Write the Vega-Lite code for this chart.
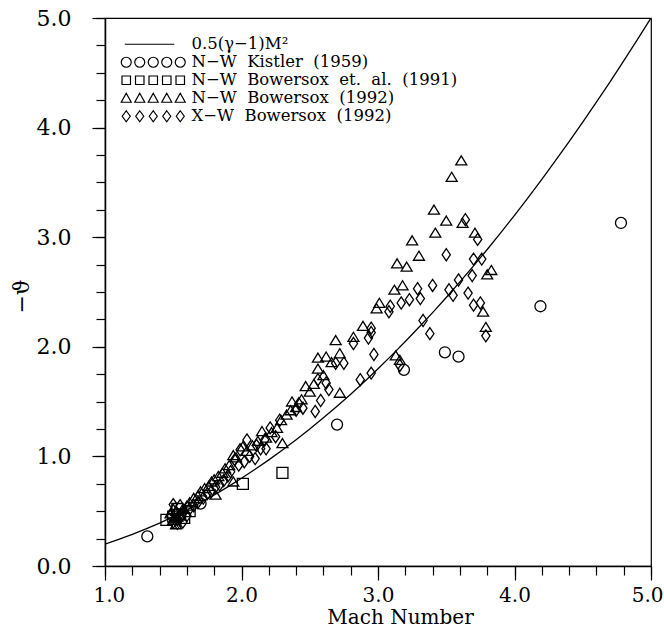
{
  "$schema": "https://vega.github.io/schema/vega-lite/v6.json",
  "width": 546,
  "height": 548,
  "autosize": {"type": "none"},
  "padding": {"left": 105, "top": 18, "right": 13, "bottom": 63},
  "background": "white",
  "config": {
    "view": {"stroke": "black", "strokeWidth": 1.2},
    "font": "DejaVu Serif"
  },
  "datasets": {
    "curve": [
      {"M": 1.0, "theta": 0.2}, {"M": 1.1, "theta": 0.242}, {"M": 1.2, "theta": 0.288}, {"M": 1.3, "theta": 0.338},
      {"M": 1.4, "theta": 0.392}, {"M": 1.5, "theta": 0.45}, {"M": 1.6, "theta": 0.512}, {"M": 1.7, "theta": 0.578},
      {"M": 1.8, "theta": 0.648}, {"M": 1.9, "theta": 0.722}, {"M": 2.0, "theta": 0.8}, {"M": 2.1, "theta": 0.882},
      {"M": 2.2, "theta": 0.968}, {"M": 2.3, "theta": 1.058}, {"M": 2.4, "theta": 1.152}, {"M": 2.5, "theta": 1.25},
      {"M": 2.6, "theta": 1.352}, {"M": 2.7, "theta": 1.458}, {"M": 2.8, "theta": 1.568}, {"M": 2.9, "theta": 1.682},
      {"M": 3.0, "theta": 1.8}, {"M": 3.1, "theta": 1.922}, {"M": 3.2, "theta": 2.048}, {"M": 3.3, "theta": 2.178},
      {"M": 3.4, "theta": 2.312}, {"M": 3.5, "theta": 2.45}, {"M": 3.6, "theta": 2.592}, {"M": 3.7, "theta": 2.738},
      {"M": 3.8, "theta": 2.888}, {"M": 3.9, "theta": 3.042}, {"M": 4.0, "theta": 3.2}, {"M": 4.1, "theta": 3.362},
      {"M": 4.2, "theta": 3.528}, {"M": 4.3, "theta": 3.698}, {"M": 4.4, "theta": 3.872}, {"M": 4.5, "theta": 4.05},
      {"M": 4.6, "theta": 4.232}, {"M": 4.7, "theta": 4.418}, {"M": 4.8, "theta": 4.608}, {"M": 4.9, "theta": 4.802},
      {"M": 5.0, "theta": 5.0}
    ],
    "points": [
      {"M": 1.31, "theta": 0.27, "series": "N−W Kistler (1959)"},
      {"M": 1.70, "theta": 0.57, "series": "N−W Kistler (1959)"},
      {"M": 2.70, "theta": 1.29, "series": "N−W Kistler (1959)"},
      {"M": 3.19, "theta": 1.79, "series": "N−W Kistler (1959)"},
      {"M": 3.49, "theta": 1.95, "series": "N−W Kistler (1959)"},
      {"M": 3.59, "theta": 1.91, "series": "N−W Kistler (1959)"},
      {"M": 4.19, "theta": 2.37, "series": "N−W Kistler (1959)"},
      {"M": 4.78, "theta": 3.13, "series": "N−W Kistler (1959)"},

      {"M": 1.45, "theta": 0.42, "series": "N−W Bowersox et. al. (1991)"},
      {"M": 1.50, "theta": 0.45, "series": "N−W Bowersox et. al. (1991)"},
      {"M": 1.55, "theta": 0.47, "series": "N−W Bowersox et. al. (1991)"},
      {"M": 1.58, "theta": 0.44, "series": "N−W Bowersox et. al. (1991)"},
      {"M": 1.62, "theta": 0.50, "series": "N−W Bowersox et. al. (1991)"},
      {"M": 1.53, "theta": 0.52, "series": "N−W Bowersox et. al. (1991)"},
      {"M": 2.01, "theta": 0.75, "series": "N−W Bowersox et. al. (1991)"},
      {"M": 2.30, "theta": 0.85, "series": "N−W Bowersox et. al. (1991)"},

      {"M": 3.61, "theta": 3.70, "series": "N−W Bowersox (1992)"},
      {"M": 3.54, "theta": 3.55, "series": "N−W Bowersox (1992)"},
      {"M": 3.41, "theta": 3.25, "series": "N−W Bowersox (1992)"},
      {"M": 3.50, "theta": 3.15, "series": "N−W Bowersox (1992)"},
      {"M": 3.62, "theta": 3.13, "series": "N−W Bowersox (1992)"},
      {"M": 3.42, "theta": 3.04, "series": "N−W Bowersox (1992)"},
      {"M": 3.71, "theta": 3.04, "series": "N−W Bowersox (1992)"},
      {"M": 3.25, "theta": 2.97, "series": "N−W Bowersox (1992)"},
      {"M": 3.30, "theta": 2.83, "series": "N−W Bowersox (1992)"},
      {"M": 3.21, "theta": 2.73, "series": "N−W Bowersox (1992)"},
      {"M": 3.14, "theta": 2.76, "series": "N−W Bowersox (1992)"},
      {"M": 3.83, "theta": 2.70, "series": "N−W Bowersox (1992)"},
      {"M": 3.80, "theta": 2.66, "series": "N−W Bowersox (1992)"},
      {"M": 3.18, "theta": 2.56, "series": "N−W Bowersox (1992)"},
      {"M": 3.12, "theta": 2.52, "series": "N−W Bowersox (1992)"},
      {"M": 3.01, "theta": 2.40, "series": "N−W Bowersox (1992)"},
      {"M": 2.99, "theta": 2.35, "series": "N−W Bowersox (1992)"},
      {"M": 2.89, "theta": 2.19, "series": "N−W Bowersox (1992)"},
      {"M": 2.82, "theta": 2.09, "series": "N−W Bowersox (1992)"},
      {"M": 2.69, "theta": 2.06, "series": "N−W Bowersox (1992)"},
      {"M": 2.72, "theta": 1.94, "series": "N−W Bowersox (1992)"},
      {"M": 2.56, "theta": 1.90, "series": "N−W Bowersox (1992)"},
      {"M": 2.62, "theta": 1.91, "series": "N−W Bowersox (1992)"},
      {"M": 2.56, "theta": 1.80, "series": "N−W Bowersox (1992)"},
      {"M": 2.47, "theta": 1.64, "series": "N−W Bowersox (1992)"},
      {"M": 2.50, "theta": 1.59, "series": "N−W Bowersox (1992)"},
      {"M": 2.72, "theta": 1.58, "series": "N−W Bowersox (1992)"},
      {"M": 2.37, "theta": 1.50, "series": "N−W Bowersox (1992)"},
      {"M": 2.36, "theta": 1.42, "series": "N−W Bowersox (1992)"},
      {"M": 2.29, "theta": 1.33, "series": "N−W Bowersox (1992)"},
      {"M": 2.15, "theta": 1.23, "series": "N−W Bowersox (1992)"},
      {"M": 2.30, "theta": 1.12, "series": "N−W Bowersox (1992)"},
      {"M": 2.01, "theta": 1.09, "series": "N−W Bowersox (1992)"},
      {"M": 1.94, "theta": 1.01, "series": "N−W Bowersox (1992)"},
      {"M": 3.77, "theta": 2.32, "series": "N−W Bowersox (1992)"},
      {"M": 3.79, "theta": 2.18, "series": "N−W Bowersox (1992)"},
      {"M": 3.16, "theta": 1.88, "series": "N−W Bowersox (1992)"},
      {"M": 3.13, "theta": 1.92, "series": "N−W Bowersox (1992)"},
      {"M": 1.81, "theta": 0.65, "series": "N−W Bowersox (1992)"},
      {"M": 1.94, "theta": 0.77, "series": "N−W Bowersox (1992)"},
      {"M": 1.48, "theta": 0.48, "series": "N−W Bowersox (1992)"},
      {"M": 1.50, "theta": 0.52, "series": "N−W Bowersox (1992)"},
      {"M": 1.52, "theta": 0.50, "series": "N−W Bowersox (1992)"},
      {"M": 1.53, "theta": 0.45, "series": "N−W Bowersox (1992)"},
      {"M": 1.55, "theta": 0.47, "series": "N−W Bowersox (1992)"},
      {"M": 1.50, "theta": 0.42, "series": "N−W Bowersox (1992)"},
      {"M": 1.52, "theta": 0.38, "series": "N−W Bowersox (1992)"},
      {"M": 1.57, "theta": 0.52, "series": "N−W Bowersox (1992)"},
      {"M": 1.60, "theta": 0.55, "series": "N−W Bowersox (1992)"},
      {"M": 1.62, "theta": 0.58, "series": "N−W Bowersox (1992)"},
      {"M": 1.65, "theta": 0.62, "series": "N−W Bowersox (1992)"},
      {"M": 1.68, "theta": 0.64, "series": "N−W Bowersox (1992)"},
      {"M": 1.70, "theta": 0.68, "series": "N−W Bowersox (1992)"},
      {"M": 1.73, "theta": 0.71, "series": "N−W Bowersox (1992)"},
      {"M": 1.76, "theta": 0.73, "series": "N−W Bowersox (1992)"},
      {"M": 1.78, "theta": 0.77, "series": "N−W Bowersox (1992)"},
      {"M": 1.80, "theta": 0.79, "series": "N−W Bowersox (1992)"},
      {"M": 1.83, "theta": 0.82, "series": "N−W Bowersox (1992)"},
      {"M": 1.86, "theta": 0.85, "series": "N−W Bowersox (1992)"},
      {"M": 1.88, "theta": 0.89, "series": "N−W Bowersox (1992)"},
      {"M": 1.91, "theta": 0.92, "series": "N−W Bowersox (1992)"},
      {"M": 1.96, "theta": 0.99, "series": "N−W Bowersox (1992)"},
      {"M": 2.04, "theta": 1.05, "series": "N−W Bowersox (1992)"},
      {"M": 2.08, "theta": 1.10, "series": "N−W Bowersox (1992)"},
      {"M": 2.12, "theta": 1.14, "series": "N−W Bowersox (1992)"},
      {"M": 2.18, "theta": 1.17, "series": "N−W Bowersox (1992)"},
      {"M": 2.22, "theta": 1.22, "series": "N−W Bowersox (1992)"},
      {"M": 2.26, "theta": 1.26, "series": "N−W Bowersox (1992)"},
      {"M": 2.33, "theta": 1.38, "series": "N−W Bowersox (1992)"},
      {"M": 2.40, "theta": 1.45, "series": "N−W Bowersox (1992)"},
      {"M": 2.44, "theta": 1.52, "series": "N−W Bowersox (1992)"},
      {"M": 2.53, "theta": 1.66, "series": "N−W Bowersox (1992)"},
      {"M": 2.60, "theta": 1.74, "series": "N−W Bowersox (1992)"},
      {"M": 2.66, "theta": 1.86, "series": "N−W Bowersox (1992)"},

      {"M": 3.64, "theta": 3.16, "series": "X−W Bowersox (1992)"},
      {"M": 3.73, "theta": 2.98, "series": "X−W Bowersox (1992)"},
      {"M": 3.50, "theta": 2.84, "series": "X−W Bowersox (1992)"},
      {"M": 3.76, "theta": 2.80, "series": "X−W Bowersox (1992)"},
      {"M": 3.70, "theta": 2.80, "series": "X−W Bowersox (1992)"},
      {"M": 3.69, "theta": 2.65, "series": "X−W Bowersox (1992)"},
      {"M": 3.59, "theta": 2.61, "series": "X−W Bowersox (1992)"},
      {"M": 3.40, "theta": 2.56, "series": "X−W Bowersox (1992)"},
      {"M": 3.52, "theta": 2.52, "series": "X−W Bowersox (1992)"},
      {"M": 3.29, "theta": 2.53, "series": "X−W Bowersox (1992)"},
      {"M": 3.31, "theta": 2.44, "series": "X−W Bowersox (1992)"},
      {"M": 3.23, "theta": 2.43, "series": "X−W Bowersox (1992)"},
      {"M": 3.66, "theta": 2.49, "series": "X−W Bowersox (1992)"},
      {"M": 3.75, "theta": 2.40, "series": "X−W Bowersox (1992)"},
      {"M": 3.70, "theta": 2.38, "series": "X−W Bowersox (1992)"},
      {"M": 3.17, "theta": 2.40, "series": "X−W Bowersox (1992)"},
      {"M": 3.55, "theta": 2.47, "series": "X−W Bowersox (1992)"},
      {"M": 3.79, "theta": 2.10, "series": "X−W Bowersox (1992)"},
      {"M": 3.33, "theta": 2.24, "series": "X−W Bowersox (1992)"},
      {"M": 3.38, "theta": 2.12, "series": "X−W Bowersox (1992)"},
      {"M": 3.09, "theta": 2.37, "series": "X−W Bowersox (1992)"},
      {"M": 3.08, "theta": 2.32, "series": "X−W Bowersox (1992)"},
      {"M": 2.95, "theta": 2.17, "series": "X−W Bowersox (1992)"},
      {"M": 2.95, "theta": 2.13, "series": "X−W Bowersox (1992)"},
      {"M": 2.93, "theta": 2.08, "series": "X−W Bowersox (1992)"},
      {"M": 2.82, "theta": 2.03, "series": "X−W Bowersox (1992)"},
      {"M": 2.75, "theta": 1.85, "series": "X−W Bowersox (1992)"},
      {"M": 2.69, "theta": 1.85, "series": "X−W Bowersox (1992)"},
      {"M": 2.97, "theta": 1.93, "series": "X−W Bowersox (1992)"},
      {"M": 2.95, "theta": 1.76, "series": "X−W Bowersox (1992)"},
      {"M": 2.87, "theta": 1.70, "series": "X−W Bowersox (1992)"},
      {"M": 2.62, "theta": 1.67, "series": "X−W Bowersox (1992)"},
      {"M": 2.56, "theta": 1.70, "series": "X−W Bowersox (1992)"},
      {"M": 2.58, "theta": 1.51, "series": "X−W Bowersox (1992)"},
      {"M": 2.54, "theta": 1.41, "series": "X−W Bowersox (1992)"},
      {"M": 2.45, "theta": 1.44, "series": "X−W Bowersox (1992)"},
      {"M": 3.16, "theta": 1.83, "series": "X−W Bowersox (1992)"},
      {"M": 2.64, "theta": 1.61, "series": "X−W Bowersox (1992)"},
      {"M": 2.42, "theta": 1.48, "series": "X−W Bowersox (1992)"},
      {"M": 2.40, "theta": 1.42, "series": "X−W Bowersox (1992)"},
      {"M": 2.28, "theta": 1.33, "series": "X−W Bowersox (1992)"},
      {"M": 2.21, "theta": 1.26, "series": "X−W Bowersox (1992)"},
      {"M": 2.25, "theta": 1.18, "series": "X−W Bowersox (1992)"},
      {"M": 2.17, "theta": 1.15, "series": "X−W Bowersox (1992)"},
      {"M": 2.18, "theta": 1.07, "series": "X−W Bowersox (1992)"},
      {"M": 2.11, "theta": 1.10, "series": "X−W Bowersox (1992)"},
      {"M": 2.10, "theta": 0.98, "series": "X−W Bowersox (1992)"},
      {"M": 2.04, "theta": 1.15, "series": "X−W Bowersox (1992)"},
      {"M": 1.99, "theta": 1.06, "series": "X−W Bowersox (1992)"},
      {"M": 1.95, "theta": 0.97, "series": "X−W Bowersox (1992)"},
      {"M": 2.14, "theta": 1.07, "series": "X−W Bowersox (1992)"},
      {"M": 1.50, "theta": 0.40, "series": "X−W Bowersox (1992)"},
      {"M": 1.53, "theta": 0.42, "series": "X−W Bowersox (1992)"},
      {"M": 1.55, "theta": 0.44, "series": "X−W Bowersox (1992)"},
      {"M": 1.57, "theta": 0.40, "series": "X−W Bowersox (1992)"},
      {"M": 1.53, "theta": 0.39, "series": "X−W Bowersox (1992)"},
      {"M": 1.60, "theta": 0.46, "series": "X−W Bowersox (1992)"},
      {"M": 1.58, "theta": 0.50, "series": "X−W Bowersox (1992)"},
      {"M": 1.62, "theta": 0.52, "series": "X−W Bowersox (1992)"},
      {"M": 1.65, "theta": 0.55, "series": "X−W Bowersox (1992)"},
      {"M": 1.68, "theta": 0.58, "series": "X−W Bowersox (1992)"},
      {"M": 1.72, "theta": 0.62, "series": "X−W Bowersox (1992)"},
      {"M": 1.75, "theta": 0.66, "series": "X−W Bowersox (1992)"},
      {"M": 1.78, "theta": 0.68, "series": "X−W Bowersox (1992)"},
      {"M": 1.81, "theta": 0.72, "series": "X−W Bowersox (1992)"},
      {"M": 1.84, "theta": 0.74, "series": "X−W Bowersox (1992)"},
      {"M": 1.87, "theta": 0.78, "series": "X−W Bowersox (1992)"},
      {"M": 1.90, "theta": 0.82, "series": "X−W Bowersox (1992)"},
      {"M": 1.92, "theta": 0.86, "series": "X−W Bowersox (1992)"},
      {"M": 1.98, "theta": 0.92, "series": "X−W Bowersox (1992)"},
      {"M": 2.02, "theta": 0.95, "series": "X−W Bowersox (1992)"},
      {"M": 2.06, "theta": 1.00, "series": "X−W Bowersox (1992)"},
      {"M": 1.50, "theta": 0.56, "series": "X−W Bowersox (1992)"},
      {"M": 1.55, "theta": 0.55, "series": "X−W Bowersox (1992)"},
      {"M": 1.48, "theta": 0.46, "series": "X−W Bowersox (1992)"}
    ]
  },
  "layer": [
    {
      "data": {"name": "curve"},
      "mark": {"type": "line", "color": "black", "strokeWidth": 1.3, "clip": true},
      "encoding": {
        "x": {
          "field": "M", "type": "quantitative",
          "scale": {"domain": [1, 5], "nice": false, "zero": false},
          "axis": {
            "orient": "bottom",
            "title": "Mach Number",
            "titleFont": "DejaVu Serif", "titleFontSize": 20, "titleFontWeight": "normal", "titleColor": "black",
            "titleX": 295, "titleY": 57, "titleBaseline": "alphabetic",
            "values": [1, 2, 3, 4, 5],
            "format": ".1f",
            "labelFont": "DejaVu Serif", "labelFontSize": 20, "labelColor": "black",
            "labelPadding": 5, "labelFlush": true, "labelFlushOffset": 12, "labelOverlap": false,
            "tickSize": 14, "tickColor": "black", "tickWidth": 1.2,
            "domainColor": "black", "domainWidth": 1.5,
            "grid": false
          }
        },
        "y": {
          "field": "theta", "type": "quantitative",
          "scale": {"domain": [0, 5], "nice": false, "zero": false},
          "axis": {
            "orient": "left",
            "title": "−ϑ",
            "titleFont": "DejaVu Serif", "titleFontSize": 22, "titleFontWeight": "normal", "titleColor": "black",
            "titleX": -84, "titleY": 278, "titleBaseline": "middle", "titleAngle": -90,
            "values": [0, 1, 2, 3, 4, 5],
            "format": ".1f",
            "labelFont": "DejaVu Serif", "labelFontSize": 22, "labelColor": "black",
            "labelPadding": 21, "labelFlush": false, "labelOverlap": false,
            "tickSize": 13, "tickColor": "black", "tickWidth": 1.2,
            "domainColor": "black", "domainWidth": 1.5,
            "grid": false
          }
        }
      }
    },
    {
      "data": {"name": "points"},
      "mark": {"type": "point", "filled": false, "color": "black", "opacity": 1, "size": 121, "strokeWidth": 1.3},
      "encoding": {
        "x": {
          "field": "M", "type": "quantitative",
          "axis": {
            "orient": "bottom", "title": null, "labels": false, "domain": false, "grid": false,
            "values": [1, 1.2, 1.4, 1.6, 1.8, 2, 2.2, 2.4, 2.6, 2.8, 3, 3.2, 3.4, 3.6, 3.8, 4, 4.2, 4.4, 4.6, 4.8, 5],
            "tickSize": 9, "tickColor": "black", "tickWidth": 1.2
          }
        },
        "y": {
          "field": "theta", "type": "quantitative",
          "axis": {
            "orient": "left", "title": null, "labels": false, "domain": false, "grid": false,
            "values": [0, 0.25, 0.5, 0.75, 1, 1.25, 1.5, 1.75, 2, 2.25, 2.5, 2.75, 3, 3.25, 3.5, 3.75, 4, 4.25, 4.5, 4.75, 5],
            "tickSize": 9, "tickColor": "black", "tickWidth": 1.2
          }
        },
        "shape": {
          "field": "series", "type": "nominal",
          "scale": {
            "domain": ["N−W Kistler (1959)", "N−W Bowersox et. al. (1991)", "N−W Bowersox (1992)", "X−W Bowersox (1992)"],
            "range": ["circle", "square", "M0,-0.85L1,0.8L-1,0.8Z", "M0,-1.1L0.75,0L0,1.1L-0.75,0Z"]
          },
          "legend": null
        }
      }
    },
    {
      "data": {"name": "points"},
      "transform": [{"filter": "false"}],
      "mark": {"type": "point", "filled": false, "color": "black", "opacity": 1, "size": 100, "strokeWidth": 1.2},
      "encoding": {
        "x": {"field": "M", "type": "quantitative", "axis": null},
        "y": {"field": "theta", "type": "quantitative", "axis": null},
        "shape": {
          "field": "series", "type": "nominal",
          "scale": {
            "domain": ["0.5(γ−1)M²", "N−W Kistler (1959)", "N−W Bowersox et. al. (1991)", "N−W Bowersox (1992)", "X−W Bowersox (1992)"],
            "range": [
              "M-0.3,0L9.6,0",
              "M1,0C1,0.552,0.552,1,0,1C-0.552,1,-1,0.552,-1,0C-1,-0.552,-0.552,-1,0,-1C0.552,-1,1,-0.552,1,0ZM3.7,0C3.7,0.552,3.252,1,2.7,1C2.148,1,1.7,0.552,1.7,0C1.7,-0.552,2.148,-1,2.7,-1C3.252,-1,3.7,-0.552,3.7,0ZM6.4,0C6.4,0.552,5.952,1,5.4,1C4.848,1,4.4,0.552,4.4,0C4.4,-0.552,4.848,-1,5.4,-1C5.952,-1,6.4,-0.552,6.4,0ZM9.1,0C9.1,0.552,8.652,1,8.1,1C7.548,1,7.1,0.552,7.1,0C7.1,-0.552,7.548,-1,8.1,-1C8.652,-1,9.1,-0.552,9.1,0ZM11.8,0C11.8,0.552,11.352,1,10.8,1C10.248,1,9.8,0.552,9.8,0C9.8,-0.552,10.248,-1,10.8,-1C11.352,-1,11.8,-0.552,11.8,0Z",
              "M-0.85,-0.85L0.85,-0.85L0.85,0.85L-0.85,0.85ZM1.85,-0.85L3.55,-0.85L3.55,0.85L1.85,0.85ZM4.55,-0.85L6.25,-0.85L6.25,0.85L4.55,0.85ZM7.25,-0.85L8.95,-0.85L8.95,0.85L7.25,0.85ZM9.95,-0.85L11.65,-0.85L11.65,0.85L9.95,0.85Z",
              "M0,-1L1,0.8L-1,0.8ZM2.7,-1L3.7,0.8L1.7,0.8ZM5.4,-1L6.4,0.8L4.4,0.8ZM8.1,-1L9.1,0.8L7.1,0.8ZM10.8,-1L11.8,0.8L9.8,0.8Z",
              "M0,-1.1L0.8,0L0,1.1L-0.8,0ZM2.7,-1.1L3.5,0L2.7,1.1L1.9,0ZM5.4,-1.1L6.2,0L5.4,1.1L4.6,0ZM8.1,-1.1L8.9,0L8.1,1.1L7.3,0ZM10.8,-1.1L11.6,0L10.8,1.1L10,0Z"
            ]
          },
          "legend": {
            "title": null,
            "orient": "none",
            "legendX": 9,
            "legendY": 14,
            "padding": 4,
            "symbolSize": 100,
            "symbolStrokeWidth": 1.2,
            "symbolStrokeColor": "black",
            "labelFont": "DejaVu Serif",
            "labelFontSize": 16.5,
            "labelColor": "black",
            "labelOffset": 57,
            "labelLimit": 450,
            "labelExpr": "replace(datum.label, / /g, '\u00a0 ')",
            "rowPadding": 1
          }
        }
      }
    }
  ],
  "resolve": {
    "scale": {"shape": "independent"},
    "legend": {"shape": "independent"},
    "axis": {"x": "independent", "y": "independent"}
  }
}
